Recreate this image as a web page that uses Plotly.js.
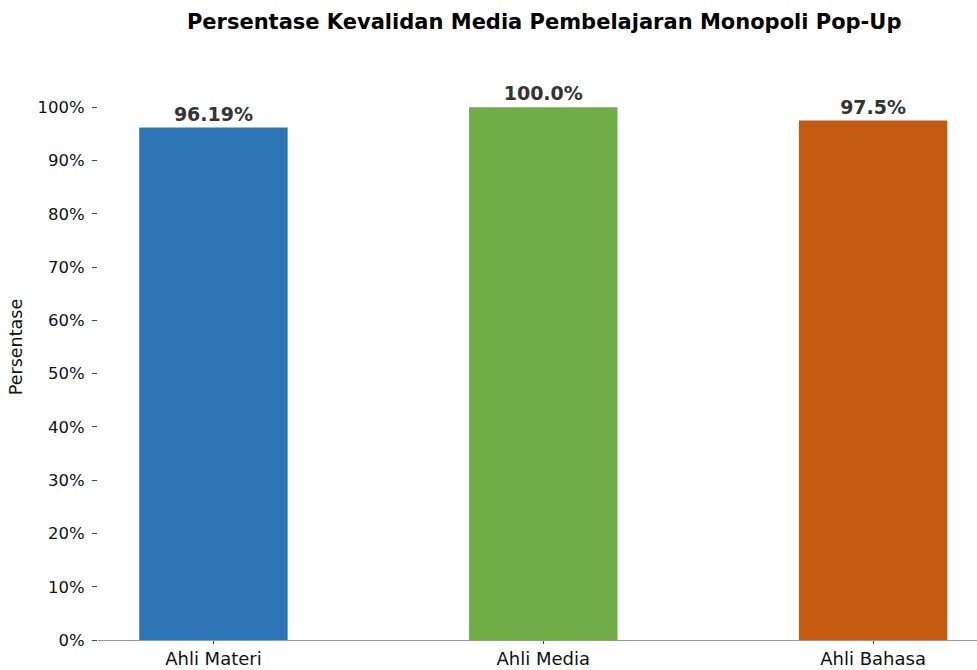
<!DOCTYPE html>
<html><head><meta charset="utf-8">
<script src="https://cdn.plot.ly/plotly-3.0.1.min.js"></script>
<style>html,body{margin:0;padding:0;background:#fff}#chart{width:977px;height:670px}</style>
</head><body><div id="chart"></div>
<script>
const categories = ["Ahli Materi", "Ahli Media", "Ahli Bahasa"];
const values = [96.19, 100.0, 97.5];
const labels = ["96.19%", "100.0%", "97.5%"];
const colors = ["#2E75B6", "#70AD47", "#C55A11"];
const yTicks = [0,10,20,30,40,50,60,70,80,90,100];
const yTickText = yTicks.map(v => v + "%");

const trace = {
  type: "bar", x: categories, y: values, width: 0.45,
  marker: {color: colors},
  text: labels, textposition: "outside", cliponaxis: false,
  textfont: {family: "DejaVu Sans", size: 19, color: "#333333", weight: "bold"},
  hoverinfo: "skip"
};
const layout = {
  width: 977, height: 670,
  margin: {l: 98, r: 0, t: 54, b: 30},
  paper_bgcolor: "#fff", plot_bgcolor: "#fff",
  font: {family: "DejaVu Sans", color: "#222"},
  title: {text: "<b>Persentase Kevalidan Media Pembelajaran Monopoli Pop-Up</b>",
          font: {family: "DejaVu Sans", size: 21, color: "#000"},
          x: 0.557, xanchor: "center", y: 0.968, yanchor: "middle"},
  xaxis: {range: [-0.35, 2.315], showline: true, linecolor: "#9a9a9a", linewidth: 1,
          ticks: "outside", ticklen: 3, tickcolor: "#444", tickwidth: 1, ticklabelstandoff: -1,
          tickfont: {size: 18, color: "#111"}, showgrid: false, zeroline: false, fixedrange: true},
  yaxis: {range: [0, 110], tickvals: yTicks, ticktext: yTickText,
          ticks: "outside", ticklen: 5, tickcolor: "#444", tickwidth: 1, ticklabelstandoff: 4,
          tickfont: {size: 16.5, color: "#111"}, showline: false, showgrid: false, zeroline: false,
          title: {text: "Persentase", font: {size: 17.5, color: "#111"}, standoff: 10}},
  showlegend: false
};
Plotly.newPlot("chart", [trace], layout, {displayModeBar: false, staticPlot: true});
</script></body></html>
